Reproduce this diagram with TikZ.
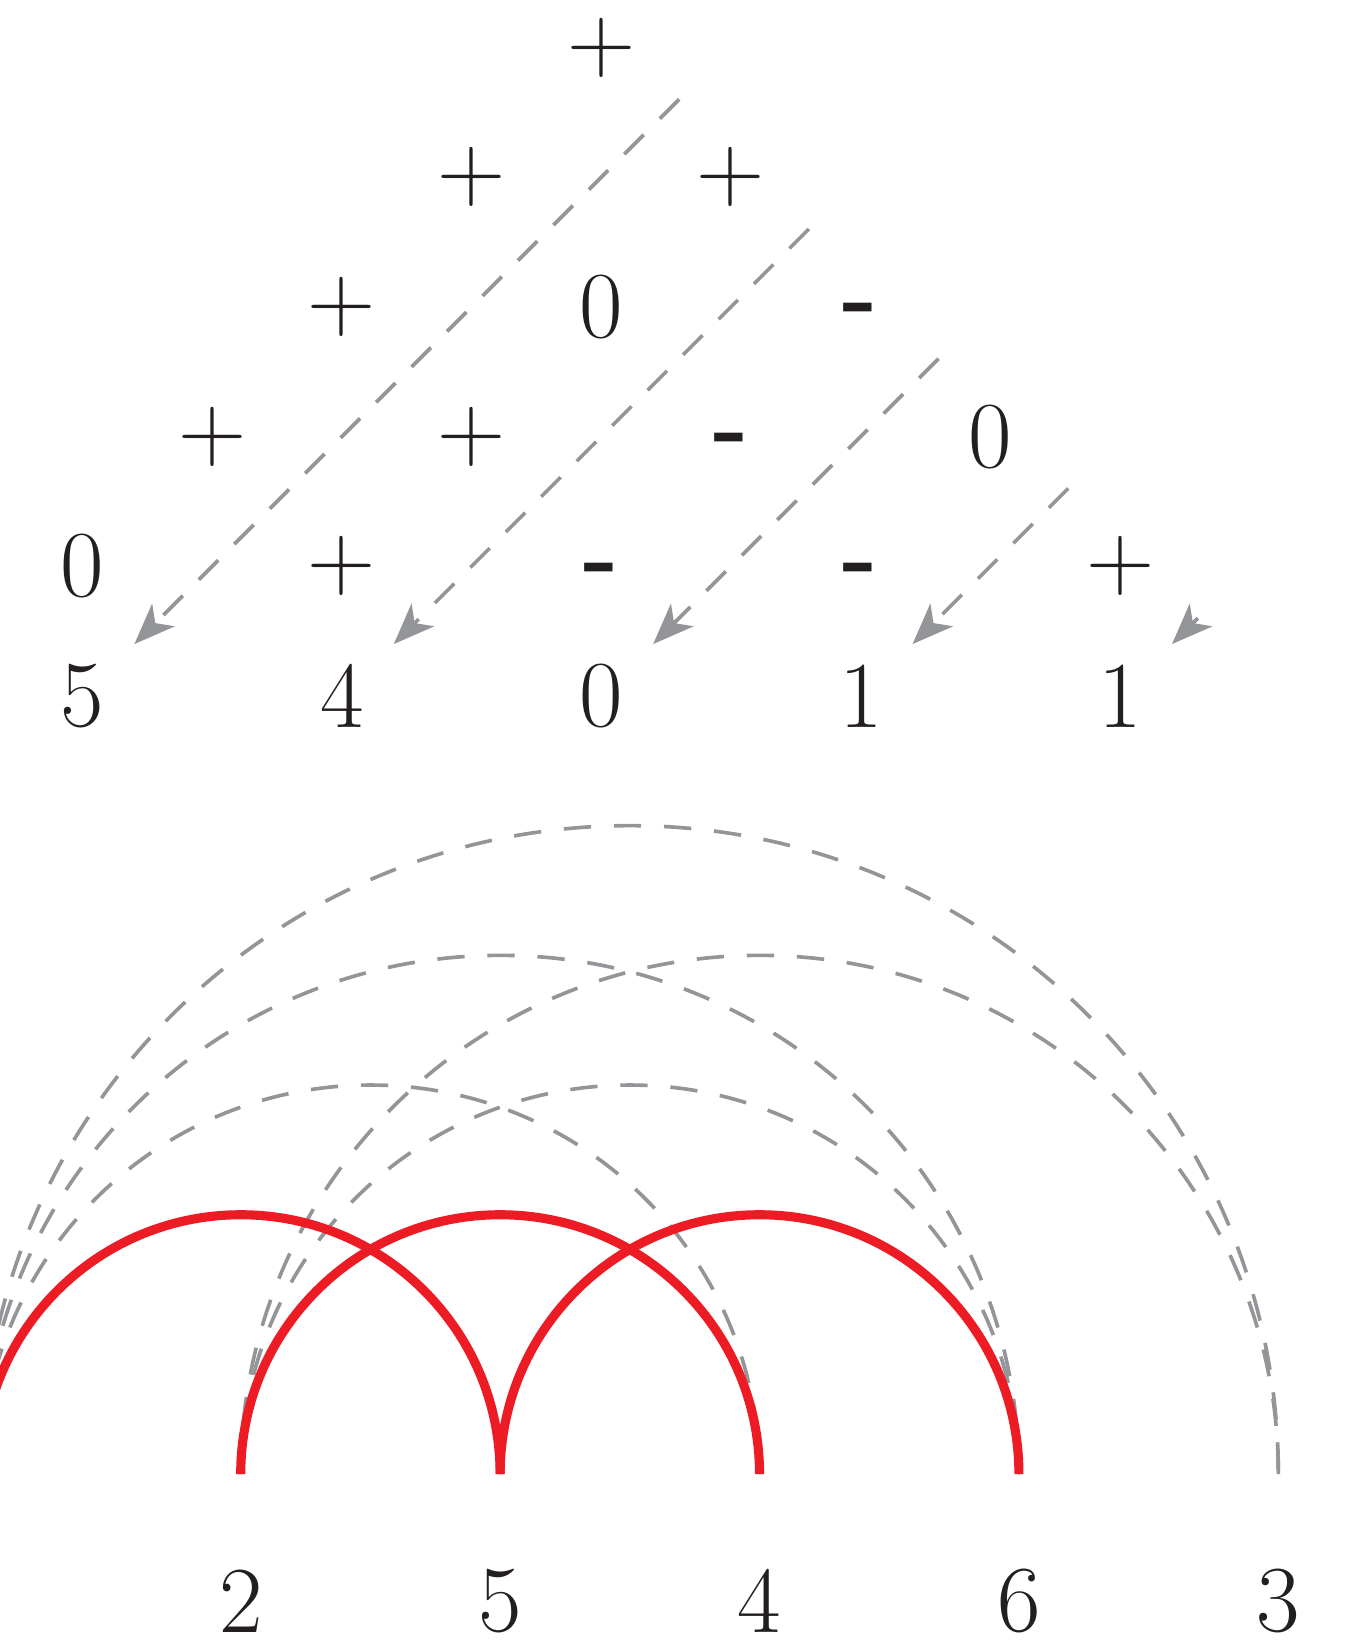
\documentclass[tikz,border=0pt]{standalone}
\usepackage{tikz}
\usetikzlibrary{arrows.meta}
\definecolor{arcred}{RGB}{237,28,36}
\definecolor{dashgray}{RGB}{147,149,152}
\definecolor{inkblack}{RGB}{35,31,32}

\begin{document}
\begin{tikzpicture}[
    sym/.style={font=\huge, text=inkblack, inner sep=0pt},
    dashline/.style={dashgray, line width=0.8pt, dash pattern=on 6pt off 5pt},
    diag/.style={dashline, -{Stealth[length=9pt, width=7pt, inset=2.5pt]}},
    redarc/.style={arcred, line width=2pt}]
    \useasboundingbox (-0.636,-7.325) rectangle (9.927,5.366);
    \foreach \x/\y/\t in {4/5/$+$, 3/4/$+$, 5/4/$+$, 2/3/$+$, 4/3/0,
        1/2/$+$, 3/2/$+$, 7/2/0, 0/1/0, 2/1/$+$, 8/1/$+$,
        0/0/5, 2/0/4, 4/0/0, 6/0/1, 8/0/1}
      \node[sym] (s-\x-\y) at (\x,\y) {\t};
    \foreach \x/\y in {6/3, 5/2, 4/1, 6/1}
      \node[sym, yshift=-2pt] (s-\x-\y) at (\x,\y) {\textbf{-}};
    \foreach \k in {0,...,4} {
      \coordinate (a\k-from) at (4.6+\k,4.6-\k);
      \coordinate (a\k-to) at (0.4+2*\k,0.4);
      \draw[diag] (a\k-from) -- (a\k-to);
    }
    \foreach \k in {0,...,5}
      \coordinate (p\k) at (-0.78+2*\k,-6);
    \foreach \k/\t in {1/2, 2/5, 3/4, 4/6, 5/3}
      \node[sym] (b\k) at (-0.78+2*\k,-6.98) {\t};
    \draw[dashline] (p0) arc[start angle=180, end angle=0, radius=5];
    \draw[dashline] (p0) arc[start angle=180, end angle=0, radius=4];
    \draw[dashline] (p1) arc[start angle=180, end angle=0, radius=4];
    \draw[dashline] (p0) arc[start angle=180, end angle=0, radius=3];
    \draw[dashline] (p1) arc[start angle=180, end angle=0, radius=3];
    \draw[redarc] (p0) arc[start angle=180, end angle=0, radius=2];
    \draw[redarc] (p1) arc[start angle=180, end angle=0, radius=2];
    \draw[redarc] (p2) arc[start angle=180, end angle=0, radius=2];
\end{tikzpicture}
\end{document}
